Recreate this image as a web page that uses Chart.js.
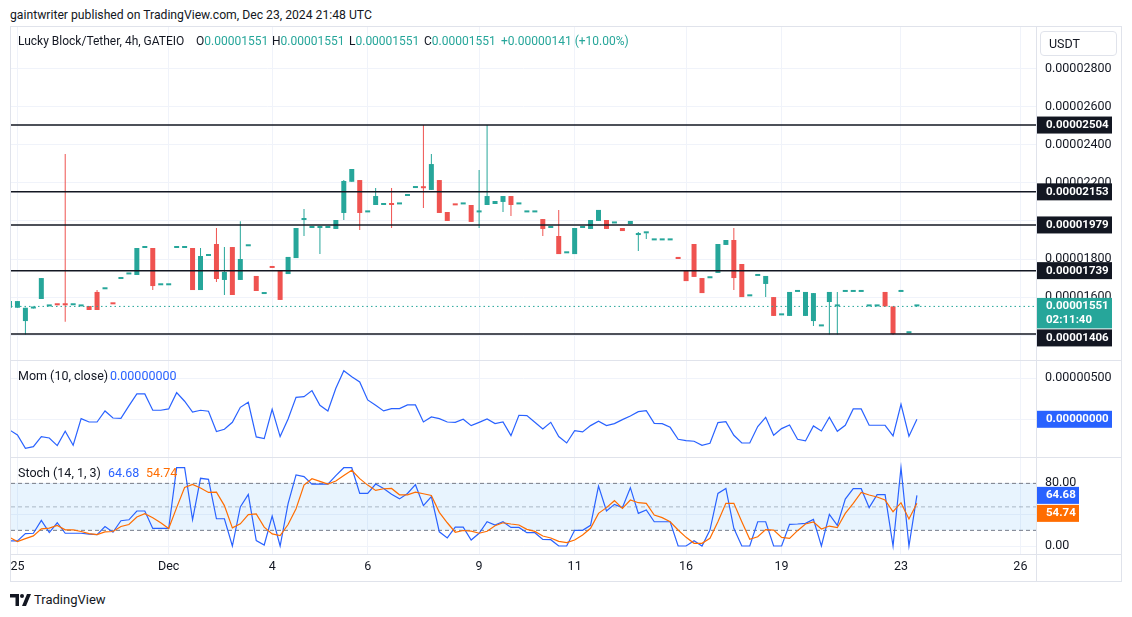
<!DOCTYPE html>
<html>
<head>
<meta charset="utf-8">
<title>Lucky Block/Tether, 4h, GATEIO</title>
<script src="https://cdn.jsdelivr.net/npm/chart.js"></script>
<style>
  html, body { margin: 0; padding: 0; background: #fff; }
  body { width: 1132px; height: 617px; position: relative; overflow: hidden;
         font-family: Roboto, "Liberation Sans", Arial, sans-serif; color: #131722; }
  .abs { position: absolute; white-space: pre; font-size: 12.5px; line-height: 16px; }
  .hdr { font-size: 12px; }
  canvas { position: absolute; }
  #frame { position: absolute; left: 10px; top: 26px; width: 1112px; height: 556px;
           box-sizing: border-box; border: 1px solid #e0e3eb; }
  .sep-h { position: absolute; left: 11px; width: 1110px; height: 1px; background: #e0e3eb; }
  .sep-v { position: absolute; width: 1px; background: #e0e3eb; }
  .up { color: #26a69a; }
  #usdt { position: absolute; left: 1040px; top: 31px; width: 77px; height: 25px; box-sizing: border-box;
          border: 1px solid #e0e3eb; border-radius: 4px; font-size: 12.5px; line-height: 23px; padding-left: 8px; }
</style>
</head>
<body>
<div class="abs" style="left:10px;top:7px;font-size:12.2px">gaintwriter published on TradingView.com, Dec 23, 2024 21:48 UTC</div>
<div id="frame"></div>

<canvas id="priceChart" width="1110" height="333" style="left:11px;top:27px;width:1110px;height:333px"></canvas>
<canvas id="momChart" width="1110" height="96" style="left:11px;top:361px;width:1110px;height:96px"></canvas>
<canvas id="stochChart" width="1110" height="123" style="left:11px;top:458px;width:1110px;height:123px"></canvas>

<div class="sep-h" style="top:360px"></div>
<div class="sep-h" style="top:457px"></div>
<div class="sep-h" style="top:554px"></div>
<div class="sep-v" style="left:1036px;top:27px;height:554px"></div>

<div id="usdt">USDT</div>

<div class="abs hdr" style="left:18px;top:33px">Lucky Block/Tether, 4h, GATEIO</div>
<div class="abs hdr" style="left:196px;top:33px">O<span class="up">0.00001551</span></div>
<div class="abs hdr" style="left:272px;top:33px">H<span class="up">0.00001551</span></div>
<div class="abs hdr" style="left:349px;top:33px">L<span class="up">0.00001551</span></div>
<div class="abs hdr" style="left:424px;top:33px">C<span class="up">0.00001551</span></div>
<div class="abs hdr up" style="left:501px;top:33px">+0.00000141 (+10.00%)</div>

<div class="abs" style="left:18px;top:368px">Mom (10, close)</div>
<div class="abs" style="left:110px;top:368px;color:#2962ff">0.00000000</div>

<div class="abs" style="left:18px;top:465px">Stoch (14, 1, 3)</div>
<div class="abs" style="left:108px;top:465px;color:#2962ff">64.68</div>
<div class="abs" style="left:146px;top:465px;color:#ff6d00">54.74</div>

<svg class="abs" style="left:10px;top:594px" width="22" height="12" viewBox="0 0 22 12">
  <path d="M0 0h9v12H5.5V3.5H0z" fill="#131722"/>
  <circle cx="12" cy="2" r="2" fill="#131722"/>
  <path d="M17 0h4l-5 12h-4z" fill="#131722"/>
</svg>
<div class="abs" style="left:34px;top:592px;font-size:13px">TradingView</div>

<script>
  // prices are in units of 1e-8 USDT
  const PRICE_UNIT = 1e-8;

  const opens = [1544,1544,1474,1540,1590,1551,1558,1558,1557,1551,
    1553,1627,1641,1563,1695,1719,1716,1858,1858,1662,
    1662,1858,1858,1858,1637,1816,1879,1690,1863,1690,
    1867,1711,1616,1763,1742,1721,1805,2005,1963,1963,
    1963,1958,2042,2206,2215,2045,2084,2084,2094,2087,
    2131,2173,2175,2163,2215,2047,2083,2087,2084,2045,
    2084,2089,2100,2131,2087,2045,2045,2010,1963,1921,
    1830,1826,1963,1958,2000,2005,1987,1963,1984,1926,
    1935,1898,1898,1898,1811,1737,1879,1700,1699,1727,
    1874,1900,1774,1604,1711,1669,1600,1504,1501,1627,
    1501,1474,1446,1574,1551,1627,1627,1627,1551,1551,
    1627,1551,1627,1410,1551];
  const highs = [1579,1579,1544,1548,1700,1551,1558,2352,1557,1551,
    1553,1637,1641,1563,1704,1719,1858,1858,1858,1662,
    1662,1858,1858,1858,1858,1816,1963,1863,1863,1999,
    1867,1711,1616,1763,1742,1811,1963,2063,1963,1963,
    1963,2005,2215,2273,2215,2045,2173,2094,2173,2087,
    2131,2173,2504,2352,2215,2047,2083,2087,2084,2268,
    2504,2105,2131,2131,2087,2045,2045,2010,1963,2058,
    1830,1963,1963,2005,2058,2005,1987,1963,2000,1942,
    1935,1898,1898,1898,1811,1737,1879,1700,1699,1879,
    1900,1963,1774,1604,1711,1711,1600,1504,1627,1627,
    1627,1621,1446,1627,1627,1627,1627,1627,1551,1551,
    1627,1551,1627,1410,1551];
  const lows = [1544,1544,1404,1540,1590,1551,1557,1471,1557,1551,
    1532,1532,1641,1562,1695,1719,1716,1858,1637,1662,
    1662,1858,1858,1637,1637,1816,1679,1611,1611,1690,
    1867,1632,1616,1753,1585,1721,1805,1921,1963,1826,
    1963,1958,2005,2206,1952,2045,2084,2084,1963,2087,
    2131,2173,2068,2163,2042,2000,2082,2087,1995,1963,
    2084,2089,2047,2026,2087,2045,2045,1921,1963,1826,
    1830,1826,1963,1958,2000,1958,1987,1947,1984,1842,
    1905,1898,1898,1898,1800,1684,1706,1621,1699,1727,
    1874,1637,1600,1604,1711,1600,1501,1504,1501,1627,
    1501,1448,1446,1404,1404,1627,1627,1627,1551,1551,
    1551,1401,1627,1410,1551];
  const closes = [1579,1579,1544,1548,1700,1551,1557,1557,1557,1551,
    1532,1532,1641,1562,1704,1719,1858,1858,1658,1662,
    1662,1858,1858,1637,1816,1816,1695,1732,1611,1800,
    1867,1632,1616,1753,1585,1811,1963,2005,1963,1963,
    1963,2005,2210,2273,2042,2045,2131,2094,2084,2087,
    2131,2173,2172,2299,2042,2000,2082,2087,1995,2045,
    2131,2105,2131,2084,2087,2045,2045,1958,1963,1826,
    1830,1963,1963,2005,2058,1958,1987,1947,2000,1926,
    1935,1898,1898,1898,1800,1684,1706,1621,1699,1879,
    1900,1700,1600,1604,1711,1711,1501,1504,1627,1627,
    1627,1621,1446,1627,1551,1627,1627,1627,1551,1551,
    1551,1406,1627,1410,1551];

  // Mom (10, close), same units as prices
  const momentum = [-130,-191,-354,-333,-211,-228,-321,-146,-317,8,
    -33,-33,102,16,12,163,309,309,110,110,
    126,325,220,89,110,98,-150,-122,-37,146,
    207,-215,-236,122,-211,4,268,276,350,171,
    102,378,593,520,455,236,171,102,130,130,
    175,175,-33,28,8,-33,-37,0,-77,-37,
    4,-53,-33,-199,49,45,-37,-118,-37,-211,
    -289,-138,-154,-77,-24,-77,-53,-4,41,93,
    106,-49,-53,-98,-244,-260,-268,-317,-293,-41,
    -28,-195,-289,-289,-89,24,-195,-114,-69,-244,
    -264,-81,-142,24,-146,-73,126,126,-73,-73,
    -73,-203,183,-207,0];

  // Stoch (14, 1, 3)
  const stochK = [6.5,6.5,15.9,16.3,32.7,17.2,29.7,16.3,16.3,16.3,
    15.1,14.6,24.9,17.6,32.3,33.5,44.7,44.7,22.4,22.4,
    22.4,100,100,33.5,86.5,85.2,34.8,34.8,0,49.9,
    65.8,6.9,1.3,38.3,0,54.2,90.8,88.6,79.1,79.1,
    79.1,89.9,100,100,67.1,67.1,79.1,73.5,66.2,60.2,
    67.1,78.3,51.6,63.2,18.1,10.3,24.1,24.1,7.7,16.3,
    31,26.7,31,23.8,23.8,17,17,8.5,8.1,0,
    0,20,20,26.4,76.6,44.7,53.2,49,74.5,41.7,
    46,31,31,31,0,0,6.8,0,20.4,67.2,
    73.6,22.6,0,0,31,31,0,0,27.7,28.1,
    28.9,34,0,40.4,26.4,60,73.2,73.2,49,65.5,
    65.5,0,100,0,64.68];
  const stochD = [11.2,5.6,9.5,12.9,21.9,22.8,26.2,20.6,20.6,18.5,
    15.9,14.6,18.1,18.5,24.9,27.5,37,41.3,36.1,29.7,
    22.4,49,74.8,78.7,74,68.4,68.8,51.6,23.2,28.4,
    40,40.9,24.1,15.5,13.3,27.5,47.7,77.8,86,82.6,
    79.1,83,89.9,96.8,86,77.8,71,73.1,73.5,65.4,
    65.4,68.8,66.7,64.5,43,29.7,17.6,19.8,18.9,16.3,
    18.9,25.8,29.7,28.1,26.8,21.3,18.7,12.8,10.2,6,
    4.3,7.7,14,22.6,41.7,49,57.9,48.1,58.7,55.3,
    54.5,39.6,36.2,31,20.4,11.1,3.4,3.4,9.8,31,
    54.5,54.5,31,8.5,11.9,20.9,20.4,11.1,9.8,19.6,
    28.1,30.7,21.7,25.5,23.4,41.7,54.5,68.5,65.1,62.6,
    58.7,43.8,55.3,34.5,54.74];

  const levelPrices = [2504, 2153, 1979, 1739, 1406];
  const lastPrice = 1551;
  const priceTicks = [1400, 1600, 1800, 2000, 2200, 2400, 2600, 2800];
  const hiddenPriceLabels = [1400, 2000];   // covered by the level boxes
  const momTicks = [0, 500];
  const stochTicks = [0, 40, 80];
  const stochLevels = [80, 50, 20];
  const dayTickIndex = [1, 20, 33, 45, 59, 71, 85, 97, 112, 127];
  const dayTickText = ["25", "Dec", "4", "6", "9", "11", "16", "19", "23", "26"];

  const UP = "#26a69a", DOWN = "#ef5350", TEXT = "#131722", GRID = "#f0f3fa";
  const BLUE = "#2962ff", ORANGE = "#ff6d00";
  const FONT = "Roboto, 'Liberation Sans', Arial, sans-serif";
  const X_MIN = 0.19, X_MAX = 128.96;

  const idx = closes.map((_, i) => i);
  const candleColor = i => closes[i] >= opens[i] ? UP : DOWN;
  const fmtPrice = v => (v * PRICE_UNIT).toFixed(8);

  // ===== SCALES =====
  function xScale(showLabels) {
    return {
      type: "linear", min: X_MIN, max: X_MAX, offset: false, bounds: "data",
      grid: { color: GRID, drawTicks: false, offset: false },
      border: { display: false },
      ticks: {
        display: showLabels, autoSkip: false, maxRotation: 0, padding: 5, color: TEXT,
        font: { family: FONT, size: 12.5 },
        callback: v => { const k = dayTickIndex.indexOf(v); return k < 0 ? "" : dayTickText[k]; }
      },
      afterBuildTicks: s => { s.ticks = dayTickIndex.map(v => ({ value: v })); },
      afterFit: s => { s.height = showLabels ? 27 : 0; s.paddingLeft = 0; s.paddingRight = 0; }
    };
  }

  function yScale(min, max, ticks, fmt) {
    return {
      type: "linear", position: "right", min, max, bounds: "data",
      grid: { color: GRID, drawTicks: false },
      border: { display: false },
      ticks: { color: TEXT, padding: 9, font: { family: FONT, size: 12.5 }, callback: fmt },
      afterBuildTicks: s => { s.ticks = ticks.map(v => ({ value: v })); },
      afterFit: s => { s.width = 85; s.paddingTop = 0; s.paddingBottom = 0; }
    };
  }

  // ===== AXIS VALUE BOXES =====
  function valueBoxes(items) {
    return {
      id: "valueBoxes",
      afterDraw(chart) {
        const ctx = chart.ctx, ys = chart.scales.y, left = chart.chartArea.right + 1;
        const boxes = items.map(it => ({ ...it, py: ys.getPixelForValue(it.value) }))
          .sort((a, b) => a.py - b.py);
        let lastBottom = -Infinity;
        ctx.save();
        boxes.forEach(b => {
          const h = 8.5 + 13.5 * b.lines.length - 5;
          let top = Math.max(b.py - 8.5, lastBottom + 1);
          ctx.fillStyle = b.color;
          ctx.fillRect(left, top, b.width, h);
          ctx.fillStyle = "#fff";
          ctx.font = "bold 11.5px " + FONT;
          ctx.textBaseline = "middle";
          ctx.textAlign = "left";
          b.lines.forEach((t, k) => ctx.fillText(t, left + 9, top + 8.5 + k * 14));
          lastBottom = top + h;
        });
        ctx.restore();
      }
    };
  }

  const hline = (y, color, width, dash) => ({
    type: "line", data: [{ x: X_MIN, y }, { x: X_MAX, y }],
    borderColor: color, borderWidth: width, borderDash: dash || [], pointRadius: 0, order: 0
  });

  const common = {
    responsive: false, animation: false, devicePixelRatio: 1,
    layout: { padding: 0 },
    plugins: { legend: { display: false }, tooltip: { enabled: false } }
  };

  // ===== PRICE PANE =====
  new Chart(document.getElementById("priceChart"), {
    type: "bar",
    data: {
      datasets: [
        ...levelPrices.map(p => hline(p, TEXT, 1.5)),
        hline(lastPrice, UP, 1, [1.5, 3]),
        {
          type: "bar", data: idx.map(i => ({ x: i, y: [lows[i], highs[i]] })),
          backgroundColor: c => candleColor(c.dataIndex), barThickness: 1,
          grouped: false, inflateAmount: 0, order: 2
        },
        {
          type: "bar", data: idx.map(i => ({ x: i, y: [opens[i], closes[i]] })),
          backgroundColor: c => candleColor(c.dataIndex), barThickness: 5, minBarLength: 2,
          grouped: false, inflateAmount: 0, order: 1
        }
      ]
    },
    options: {
      ...common,
      scales: {
        x: xScale(false),
        y: yScale(1269.4, 3019.2, priceTicks, v => hiddenPriceLabels.includes(v) ? "" : fmtPrice(v))
      }
    },
    plugins: [valueBoxes([
      ...levelPrices.map(p => ({ value: p, lines: [fmtPrice(p)], color: TEXT, width: 75 })),
      { value: lastPrice, lines: [fmtPrice(lastPrice), "02:11:40"], color: UP, width: 75 }
    ])]
  });

  // ===== MOMENTUM PANE =====
  new Chart(document.getElementById("momChart"), {
    type: "line",
    data: {
      datasets: [{
        data: idx.map(i => ({ x: i, y: momentum[i] })),
        borderColor: BLUE, borderWidth: 1.2, pointRadius: 0, tension: 0
      }]
    },
    options: {
      ...common,
      scales: { x: xScale(false), y: yScale(-460, 711, momTicks, fmtPrice) }
    },
    plugins: [valueBoxes([
      { value: momentum[momentum.length - 1], lines: [fmtPrice(momentum[momentum.length - 1])], color: BLUE, width: 75 }
    ])]
  });

  // ===== STOCH PANE =====
  const kLast = stochK[stochK.length - 1], dLast = stochD[stochD.length - 1];
  new Chart(document.getElementById("stochChart"), {
    type: "line",
    data: {
      datasets: [
        { ...hline(stochLevels[0], "#787b86", 1, [4, 3]), fill: { value: stochLevels[2] },
          backgroundColor: "rgba(33,150,243,0.1)", order: 3 },
        { ...hline(stochLevels[1], "rgba(120,123,134,0.5)", 1, [4, 3]), order: 3 },
        { ...hline(stochLevels[2], "#787b86", 1, [4, 3]), order: 3 },
        { data: idx.map(i => ({ x: i, y: stochK[i] })), borderColor: BLUE, borderWidth: 1.2, pointRadius: 0, order: 1 },
        { data: idx.map(i => ({ x: i, y: stochD[i] })), borderColor: ORANGE, borderWidth: 1.2, pointRadius: 0, order: 0 }
      ]
    },
    options: {
      ...common,
      scales: {
        x: xScale(true),
        y: yScale(-10.2, 112.4, stochTicks, v => v === 40 ? "" : v.toFixed(2))
      }
    },
    plugins: [valueBoxes([
      { value: kLast, lines: [kLast.toFixed(2)], color: BLUE, width: 42 },
      { value: dLast, lines: [dLast.toFixed(2)], color: ORANGE, width: 42 }
    ])]
  });
</script>
</body>
</html>
